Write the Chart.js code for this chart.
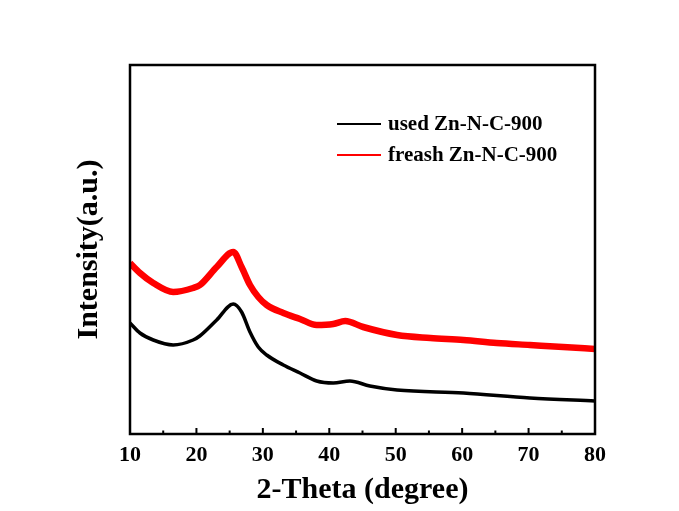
<!DOCTYPE html>
<html>
<head>
<meta charset="utf-8">
<script src="https://cdn.jsdelivr.net/npm/chart.js@4"></script>
<style>
  html, body { margin: 0; padding: 0; background: #fff; }
  #wrap { width: 679px; height: 511px; }
</style>
</head>
<body>
<div id="wrap"><canvas id="xrdChart"></canvas></div>
<script>
// 2-theta positions and intensities (arbitrary units)
const usedTheta = [10, 11.5, 13.5, 16.5, 19.5, 20.5, 23.05, 25.55, 26.8, 28.06, 29.31, 30.58, 33.08, 35.59, 38.1, 40.6, 43.1, 46.1, 50.2, 60.2, 70.2, 80];
const usedIntensity = [111, 101, 94, 89, 94, 98, 114, 130, 122, 102, 87, 79, 69, 61, 53, 51, 53, 48, 44, 41, 36, 33];

const freshTheta = [10, 11.5, 13.5, 16.5, 19.5, 20.54, 23.05, 25.55, 26.8, 28.06, 29.31, 30.58, 33.08, 35.59, 38.1, 40.6, 42.4, 45.1, 50.2, 55.2, 60.2, 65.2, 70.2, 75.2, 80];
const freshIntensity = [171, 161, 151, 142, 146, 149, 167, 182, 167, 149, 137, 129, 121, 115, 109, 110, 113, 107, 99, 96, 94, 91, 89, 87, 85];

const xTicks = [10, 20, 30, 40, 50, 60, 70, 80];
const seriesNames = ["used Zn-N-C-900", "freash Zn-N-C-900"];

const serif = "'Liberation Serif', 'Times New Roman', serif";

const toPoints = (xs, ys) => xs.map((x, i) => ({ x: x, y: ys[i] }));

// frame, inward ticks and legend drawn on top of the plot
const framePlugin = {
  id: "frame",
  afterDraw(chart) {
    const ctx = chart.ctx;
    const a = chart.chartArea;
    const xs = chart.scales.x;
    ctx.save();
    ctx.strokeStyle = "#000";
    ctx.lineWidth = 2.5;
    ctx.strokeRect(a.left, a.top, a.right - a.left, a.bottom - a.top);
    ctx.lineWidth = 2;
    for (let v = 10; v <= 80; v += 5) {
      const px = xs.getPixelForValue(v);
      const len = v % 10 === 0 ? 6 : 3.5;
      ctx.beginPath();
      ctx.moveTo(px, a.bottom);
      ctx.lineTo(px, a.bottom - len);
      ctx.stroke();
    }
    // legend
    ctx.font = "bold 21px " + serif;
    ctx.textBaseline = "middle";
    chart.data.datasets.forEach((ds, i) => {
      const y = 124 + i * 31;
      ctx.strokeStyle = ds.borderColor;
      ctx.lineWidth = 2;
      ctx.beginPath();
      ctx.moveTo(337, y);
      ctx.lineTo(381, y);
      ctx.stroke();
      ctx.fillStyle = "#000";
      ctx.fillText(ds.label, 388, y + 1);
    });
    ctx.restore();
  }
};

new Chart(document.getElementById("xrdChart"), {
  type: "line",
  data: {
    datasets: [
      {
        label: seriesNames[0],
        data: toPoints(usedTheta, usedIntensity),
        borderColor: "#000000",
        borderWidth: 3.5,
        pointRadius: 0,
        cubicInterpolationMode: "monotone"
      },
      {
        label: seriesNames[1],
        data: toPoints(freshTheta, freshIntensity),
        borderColor: "#ff0000",
        borderWidth: 6.5,
        pointRadius: 0,
        cubicInterpolationMode: "monotone"
      }
    ]
  },
  options: {
    responsive: true,
    maintainAspectRatio: false,
    animation: false,
    layout: { padding: { top: 65, right: 84, left: 0, bottom: 0 } },
    plugins: {
      legend: { display: false },
      tooltip: { enabled: false }
    },
    scales: {
      x: {
        type: "linear",
        min: 10,
        max: 80,
        afterBuildTicks: (s) => { s.ticks = xTicks.map(v => ({ value: v })); },
        afterFit: (s) => { s.height = 77; },
        grid: { display: false, drawTicks: false },
        border: { display: false },
        ticks: {
          color: "#000",
          padding: 8,
          font: { family: serif, size: 22, weight: "bold" }
        },
        title: {
          display: true,
          text: "2-Theta (degree)",
          color: "#000",
          padding: { top: 0, bottom: 3 },
          font: { family: serif, size: 30, weight: "bold" }
        }
      },
      y: {
        min: 0,
        max: 369,
        afterFit: (s) => { s.width = 130; },
        grid: { display: false, drawTicks: false },
        border: { display: false },
        ticks: { display: false },
        title: {
          display: true,
          text: "Intensity(a.u.)",
          color: "#000",
          padding: { top: 71, bottom: 0 },
          font: { family: serif, size: 30, weight: "bold" }
        }
      }
    }
  },
  plugins: [framePlugin]
});
</script>
</body>
</html>
